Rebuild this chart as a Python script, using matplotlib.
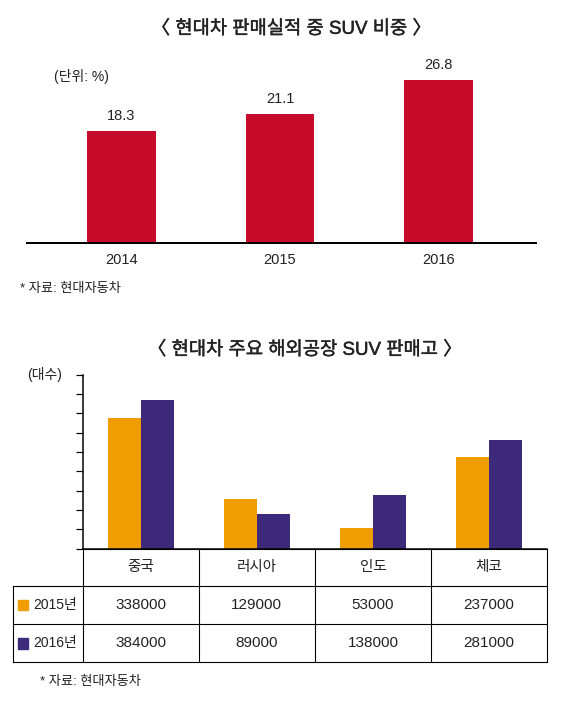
import numpy as np
import matplotlib
matplotlib.use('Agg')
import matplotlib.pyplot as plt
import matplotlib.patheffects as pe

plt.rcParams['font.family'] = ['Liberation Sans', 'Noto Sans CJK KR', 'DejaVu Sans']

# 데이터: 현대차 판매실적 중 SUV 비중 (%)
years = ['2014', '2015', '2016']
suv_share = [18.3, 21.1, 26.8]

# 데이터: 현대차 주요 해외공장 SUV 판매고 (대수)
plants = ['중국', '러시아', '인도', '체코']
series_names = ['2015년', '2016년']
sales_2015 = [338000, 129000, 53000, 237000]
sales_2016 = [384000, 89000, 138000, 281000]

RED = '#C50A2A'
ORANGE = '#EF9D00'
PURPLE = '#3D2A7B'
TXT = '#222222'

W, H = 561, 702
fig = plt.figure(figsize=(W / 100, H / 100), dpi=100)


def fx(x):
    return x / W


def fy(y):
    return 1 - y / H


PT = 0.72  # px -> pt
# 제목은 중간 굵기 느낌으로 약간만 두껍게
title_fx = [pe.withStroke(linewidth=0.3, foreground=TXT)]

# ---------------- 위 차트 ----------------
base1, top1 = 242.7, 60
ax1 = fig.add_axes([fx(27), fy(base1), (536 - 27) / W, (base1 - top1) / H])
xpos = np.arange(len(years))
ax1.bar(xpos, suv_share, width=0.435, color=RED)
ax1.set_xlim(-0.596, 2.615)
ax1.set_ylim(0, (base1 - top1) / 6.08)
for s in ['top', 'right', 'left']:
    ax1.spines[s].set_visible(False)
ax1.spines['bottom'].set_linewidth(2 * PT)
ax1.set_yticks([])
ax1.set_xticks([])
for i, (yr, v) in enumerate(zip(years, suv_share)):
    ax1.annotate(f'{v:.1f}', xy=(i, v), xytext=(0, 15 * PT), textcoords='offset points',
                 ha='center', va='center', fontsize=10.5, color=TXT)
    ax1.annotate(yr, xy=(i, 0), xytext=(0, -17.5 * PT), textcoords='offset points',
                 ha='center', va='center', fontsize=10.5, color=TXT)

fig.text(fx(291.5), fy(29), '〈 현대차 판매실적 중 SUV 비중 〉', ha='center', va='center',
         fontsize=13.5, color=TXT, path_effects=title_fx)
fig.text(fx(54), fy(76.5), '(단위: %)', ha='left', va='center', fontsize=10, color=TXT)
fig.text(fx(20), fy(289), '* 자료: 현대자동차', ha='left', va='center', fontsize=9.5, color=TXT)

# ---------------- 아래 차트 ----------------
left2, right2, base2, top2 = 82.7, 547, 548.7, 374.7
ax2 = fig.add_axes([fx(left2), fy(base2), (right2 - left2) / W, (base2 - top2) / H])
xp = np.arange(len(plants))
bw = 0.284
ax2.bar(xp - bw / 2, sales_2015, width=bw, color=ORANGE)
ax2.bar(xp + bw / 2, sales_2016, width=bw, color=PURPLE)
ax2.set_xlim(-0.5, len(plants) - 0.5)
ax2.set_ylim(0, 450000)
ax2.set_yticks(np.arange(0, 450001, 50000))
ax2.set_yticklabels([])
ax2.tick_params(axis='y', length=7 * PT, width=1.2 * PT, color='black')
ax2.set_xticks([])
ax2.spines['top'].set_visible(False)
ax2.spines['right'].set_visible(False)
ax2.spines['left'].set_linewidth(1.5 * PT)
ax2.spines['bottom'].set_linewidth(1.5 * PT)

fig.text(fx(305), fy(350), '〈 현대차 주요 해외공장 SUV 판매고 〉', ha='center', va='center',
         fontsize=13.5, color=TXT, path_effects=title_fx)
fig.text(fx(44.5), fy(374.5), '(대수)', ha='center', va='center', fontsize=10, color=TXT)

# ---------------- 표 ----------------
tax = fig.add_axes([0, 0, 1, 1], facecolor='none')
tax.set_xlim(0, W)
tax.set_ylim(H, 0)
tax.axis('off')

col_w = (right2 - left2) / len(plants)
xs = [12.6] + [left2 + col_w * i for i in range(len(plants) + 1)]
ys = [base2, 586, 624.3, 662.3]
lw = 1.1 * PT
# 가로선
tax.plot([left2, right2], [ys[0], ys[0]], color='black', lw=lw)
for y in ys[1:]:
    tax.plot([xs[0], right2], [y, y], color='black', lw=lw)
# 세로선
tax.plot([xs[0], xs[0]], [ys[1], ys[-1]], color='black', lw=lw)
for x in xs[1:]:
    tax.plot([x, x], [ys[0], ys[-1]], color='black', lw=lw)

for i, name in enumerate(plants):
    cx = left2 + col_w * (i + 0.5)
    tax.text(cx, (ys[0] + ys[1]) / 2, name, ha='center', va='center', fontsize=10.5, color=TXT)

rows = [sales_2015, sales_2016]
colors = [ORANGE, PURPLE]
for r, (vals, sname, c) in enumerate(zip(rows, series_names, colors)):
    cy = (ys[r + 1] + ys[r + 2]) / 2
    tax.add_patch(plt.Rectangle((18, cy - 5.2), 10.5, 10.5, color=c))
    tax.text(33, cy, sname, ha='left', va='center', fontsize=10, color=TXT)
    for i, v in enumerate(vals):
        cx = left2 + col_w * (i + 0.5)
        tax.text(cx, cy, str(v), ha='center', va='center', fontsize=11, color=TXT)

tax.text(40, 682, '* 자료: 현대자동차', ha='left', va='center', fontsize=9.5, color=TXT)

fig.savefig('out.png', dpi=100)
